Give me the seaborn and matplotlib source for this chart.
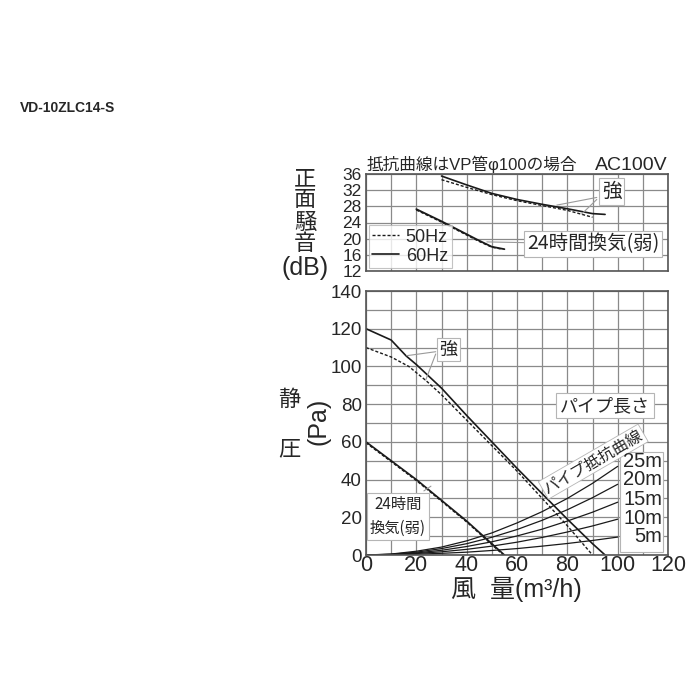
import matplotlib
matplotlib.use('Agg')
import matplotlib.pyplot as plt
import seaborn as sns
import pandas as pd
from matplotlib.lines import Line2D
from matplotlib.patches import Rectangle

# ---------------- data ----------------
xticks_bottom = [0, 20, 40, 60, 80, 100, 120]
yticks_bottom = [0, 20, 40, 60, 80, 100, 120, 140]
yticks_top = [12, 16, 20, 24, 28, 32, 36]

# noise (top chart)
noise_strong_60_x = [30, 40, 50, 60, 70, 80, 90, 95]
noise_strong_60_y = [35.5, 33.3, 31.2, 29.7, 28.5, 27.4, 26.2, 26.0]
noise_strong_50_x = [30, 40, 50, 60, 70, 80, 90]
noise_strong_50_y = [34.6, 32.7, 30.9, 29.4, 28.2, 27.0, 25.3]
noise_weak_60_x = [20, 25, 30, 35, 40, 45, 50, 55]
noise_weak_60_y = [27.3, 25.8, 24.3, 22.7, 21.1, 19.5, 18.0, 17.4]
noise_weak_50_x = [20, 25, 30, 35, 40, 45, 50, 54]
noise_weak_50_y = [27.1, 25.6, 24.1, 22.5, 20.9, 19.3, 17.9, 17.4]

# static pressure (bottom chart)
pq_strong_60_x = [0, 10, 16, 20, 30, 40, 50, 60, 70, 80, 90, 95]
pq_strong_60_y = [120, 114, 105.5, 101, 88.5, 74, 60, 46, 32.5, 19, 6, 0]
pq_strong_50_x = [0, 10, 17, 24, 30, 40, 50, 60, 70, 80, 90]
pq_strong_50_y = [110, 105, 100, 92.3, 85, 71.5, 58, 44.5, 30, 15.5, 0]
pq_weak_60_x = [0, 10, 20, 30, 40, 50, 55]
pq_weak_60_y = [60, 50, 40, 29, 18, 6, 0]
pq_weak_50_x = [0, 10, 20, 30, 40, 50, 54.5]
pq_weak_50_y = [59.5, 49.5, 39.5, 28.5, 17.5, 5.5, 0]

# pipe resistance curves
pipe_x = [0, 10, 20, 30, 40, 50, 60, 70, 80, 90, 100]
pipe_labels = ['25m', '20m', '15m', '10m', '5m']
pipe_25m = [0, 0.5, 2.0, 4.2, 7.5, 11.7, 17.0, 23.0, 30.0, 38.0, 47.0]
pipe_20m = [0, 0.4, 1.5, 3.4, 6.0, 9.4, 13.5, 18.4, 24.0, 30.4, 37.5]
pipe_15m = [0, 0.3, 1.1, 2.5, 4.5, 7.0, 10.1, 13.7, 18.0, 22.7, 28.0]
pipe_10m = [0, 0.2, 0.8, 1.7, 3.0, 4.7, 6.8, 9.3, 12.2, 15.4, 19.0]
pipe_5m = [0, 0.1, 0.4, 0.9, 1.5, 2.4, 3.4, 4.7, 6.1, 7.7, 9.5]
pipe_values = [pipe_25m, pipe_20m, pipe_15m, pipe_10m, pipe_5m]

# ---------------- style ----------------
sns.set_theme(style='white')
plt.rcParams['font.family'] = ['Liberation Sans', 'Noto Sans CJK JP', 'DejaVu Sans']

CJK = ['Noto Sans CJK JP', 'DejaVu Sans']
LAT = ['Liberation Sans', 'Noto Sans CJK JP']
LINE = '#1a1a1a'
GRID = '#8a8a8a'
SPINE = '#555555'
BOXEC = '#b5b5b5'

W = H = 700
fig = plt.figure(figsize=(7, 7), dpi=100)
ax1 = fig.add_axes([366 / W, 1 - 271 / H, 302 / W, 97 / H])
ax2 = fig.add_axes([366 / W, 1 - 555 / H, 302 / W, 264 / H])

for ax in (ax1, ax2):
    ax.set_axisbelow(True)
    for s in ax.spines.values():
        s.set_color(SPINE)
        s.set_linewidth(1.2)
    ax.grid(True, which='both', color=GRID, linewidth=0.9)
    ax.tick_params(which='both', length=0)
    ax.set_xlim(0, 120)

# --- top chart ---
ax1.set_ylim(12, 36)
ax1.set_xticks(range(0, 121, 10))
ax1.set_xticklabels([])
ax1.set_yticks(yticks_top)
ax1.set_yticklabels([str(v) for v in yticks_top], fontsize=12.5, family=['Liberation Sans'])
ax1.tick_params(axis='y', pad=3)

dash = (0, (2.2, 1.4))
sns.lineplot(x=noise_strong_50_x, y=noise_strong_50_y, ax=ax1, color=LINE, linewidth=1.0, linestyle=dash)
sns.lineplot(x=noise_strong_60_x, y=noise_strong_60_y, ax=ax1, color=LINE, linewidth=1.2)
sns.lineplot(x=noise_weak_50_x, y=noise_weak_50_y, ax=ax1, color=LINE, linewidth=1.0, linestyle=dash)
sns.lineplot(x=noise_weak_60_x, y=noise_weak_60_y, ax=ax1, color=LINE, linewidth=1.3)

h50 = Line2D([], [], color=LINE, linewidth=1.0, linestyle=dash)
h60 = Line2D([], [], color=LINE, linewidth=1.2)
leg = ax1.legend([h50, h60], ['50Hz', '60Hz'], loc='lower left', bbox_to_anchor=(0, 0),
                 borderaxespad=0.15, frameon=True, fancybox=False, edgecolor=BOXEC,
                 prop={'family': LAT, 'size': 13}, handlelength=1.5, handletextpad=0.35,
                 labelspacing=0.12, borderpad=0.2)
leg.get_frame().set_linewidth(0.8)

box = dict(boxstyle='square,pad=0.15', fc='white', ec=BOXEC, lw=0.8)
lead = dict(arrowstyle='-', color='#9a9a9a', lw=0.8, shrinkA=0, shrinkB=0)

ax1.annotate('', xy=(75.8, 28.3), xytext=(91.7, 30.2), arrowprops=lead, zorder=4)
ax1.annotate('', xy=(85.7, 26.1), xytext=(91.7, 29.7), arrowprops=lead, zorder=4)
ax1.text(97.6, 31.6, '強', ha='center', va='center', fontsize=14, family=CJK, bbox=box, zorder=5)
ax1.annotate('', xy=(48, 19.2), xytext=(64.5, 19.0), arrowprops=lead, zorder=4)
ax1.text(90.2, 18.7, '24時間換気(弱)', ha='center', va='center', fontsize=14, family=CJK,
         bbox=box, zorder=5)

# --- bottom chart ---
ax2.set_ylim(0, 140)
ax2.set_xticks(xticks_bottom)
ax2.set_xticks(range(0, 121, 10), minor=True)
ax2.set_yticks(yticks_bottom)
ax2.set_yticks(range(0, 141, 10), minor=True)
ax2.set_xticklabels([str(v) for v in xticks_bottom], fontsize=15.5, family=['Liberation Sans'])
ax2.set_yticklabels([str(v) for v in yticks_bottom], fontsize=13.5, family=['Liberation Sans'])
ax2.tick_params(axis='x', pad=0)
ax2.tick_params(axis='y', pad=3)

for vals in pipe_values:
    sns.lineplot(x=pipe_x, y=vals, ax=ax2, color=LINE, linewidth=0.9)
sns.lineplot(x=pq_weak_50_x, y=pq_weak_50_y, ax=ax2, color=LINE, linewidth=1.0, linestyle=dash)
sns.lineplot(x=pq_weak_60_x, y=pq_weak_60_y, ax=ax2, color=LINE, linewidth=1.2)
sns.lineplot(x=pq_strong_50_x, y=pq_strong_50_y, ax=ax2, color=LINE, linewidth=1.0, linestyle=dash)
sns.lineplot(x=pq_strong_60_x, y=pq_strong_60_y, ax=ax2, color=LINE, linewidth=1.2)

ax2.annotate('', xy=(16.2, 105.7), xytext=(27.7, 107.8), arrowprops=lead, zorder=4)
ax2.annotate('', xy=(23.7, 92.7), xytext=(27.7, 106.6), arrowprops=lead, zorder=4)
ax2.text(32.7, 109, '強', ha='center', va='center', fontsize=13, family=CJK, bbox=box, zorder=5)

ax2.text(95, 79.1, 'パイプ長さ', ha='center', va='center', fontsize=13, family=CJK,
         bbox=dict(boxstyle='square,pad=0.2', fc='white', ec=BOXEC, lw=0.8), zorder=5)

ax2.annotate('', xy=(25.8, 36.5), xytext=(23.0, 34.0), arrowprops=lead, zorder=4)
ax2.text(12.7, 20.4, '24時間\n換気(弱)', ha='center', va='center', fontsize=11, family=CJK,
         linespacing=1.5, bbox=dict(boxstyle='square,pad=0.2', fc='white', ec=BOXEC, lw=0.8),
         zorder=5)

ax2.text(90.3, 49.5, 'パイプ抵抗曲線', ha='center', va='center', fontsize=11.5, family=CJK,
         rotation=30, rotation_mode='anchor',
         bbox=dict(boxstyle='square,pad=0.1', fc='white', ec=BOXEC, lw=0.6), zorder=5)

ax2.add_patch(Rectangle((100.9, 1.7), 17.1, 53.1, fc='white', ec=BOXEC, lw=0.8, zorder=3))
for lbl, yy in zip(pipe_labels, [49.5, 39.8, 29.5, 19.4, 9.7]):
    ax2.text(117.8, yy, lbl, ha='right', va='center', fontsize=14.5, family=['Liberation Sans'],
             zorder=6)

# ---------------- figure texts ----------------
fig.text(20 / W, 1 - 108 / H, 'VD-10ZLC14-S', fontsize=10, fontweight='bold',
         family=['Liberation Sans'], ha='left', va='center')
fig.text(367 / W, 1 - 170 / H, '抵抗曲線はVP管φ100の場合', fontsize=12, family=LAT,
         ha='left', va='baseline')
fig.text(668 / W, 1 - 170 / H, 'AC100V', fontsize=14, family=LAT, ha='right', va='baseline')

for ch, yc in zip(['正', '面', '騒', '音'], [179, 200, 222, 244]):
    fig.text(305 / W, 1 - yc / H, ch, fontsize=16, family=CJK, ha='center', va='center')
fig.text(305 / W, 1 - 268 / H, '(dB)', fontsize=18, family=['Liberation Sans'], ha='center', va='center')

fig.text(289 / W, 1 - 399 / H, '静', fontsize=16, family=CJK, ha='center', va='center')
fig.text(289 / W, 1 - 449 / H, '圧', fontsize=16, family=CJK, ha='center', va='center')
fig.text(318 / W, 1 - 421 / H, '(Pa)', fontsize=18, family=['Liberation Sans'], rotation=90,
         ha='center', va='center')

fig.text(516 / W, 1 - 589 / H, '風  量(m³/h)', fontsize=18, family=LAT, ha='center', va='center')

fig.savefig('out.png', dpi=100, facecolor='white')
